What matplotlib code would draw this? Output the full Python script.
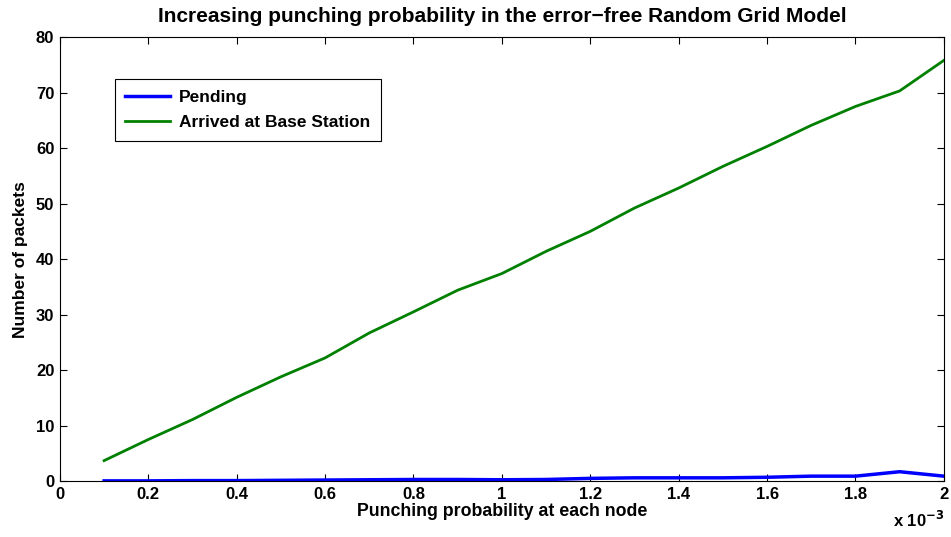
import matplotlib
matplotlib.use("Agg")
import matplotlib.pyplot as plt
from matplotlib.ticker import FuncFormatter, MultipleLocator

# punching probability at each node
prob = [0.0001, 0.0002, 0.0003, 0.0004, 0.0005, 0.0006, 0.0007, 0.0008, 0.0009, 0.0010,
        0.0011, 0.0012, 0.0013, 0.0014, 0.0015, 0.0016, 0.0017, 0.0018, 0.0019, 0.0020]

pending = [0.05, 0.05, 0.1, 0.1, 0.15, 0.2, 0.25, 0.3, 0.3, 0.25,
           0.3, 0.5, 0.6, 0.6, 0.6, 0.7, 0.9, 0.9, 1.7, 0.9]

arrived = [3.7, 7.5, 11.1, 15.1, 18.8, 22.2, 26.7, 30.5, 34.4, 37.4,
           41.4, 45.0, 49.2, 52.8, 56.7, 60.3, 64.1, 67.5, 70.3, 75.8]

plt.rcParams['font.family'] = ['Liberation Sans', 'DejaVu Sans']
plt.rcParams['font.weight'] = 'bold'
plt.rcParams['font.size'] = 12

fig = plt.figure(figsize=(9.51, 5.37), dpi=100)
ax = fig.add_axes([0.063, 0.104, 0.9295, 0.827])

ax.plot(prob, pending, color='#0000ff', lw=2.5, label='Pending')
ax.plot(prob, arrived, color='#008000', lw=2, label='Arrived at Base Station')

ax.set_xlim(0, 0.002)
ax.set_ylim(0, 80)
ax.xaxis.set_major_locator(MultipleLocator(0.0002))
ax.yaxis.set_major_locator(MultipleLocator(10))
ax.xaxis.set_major_formatter(FuncFormatter(lambda v, p: f"{v * 1e3:g}"))
ax.tick_params(direction='in', top=True, right=True, length=5, width=0.8,
               labelsize=12, pad=4)
for lbl in ax.get_xticklabels() + ax.get_yticklabels():
    lbl.set_fontweight('bold')

ax.set_title('Increasing punching probability in the error\u2212free Random Grid Model',
             fontsize=15, fontweight='bold', pad=11)
ax.set_xlabel('Punching probability at each node', fontsize=12.8, fontweight='bold', labelpad=1)
ax.set_ylabel('Number of packets', fontsize=12.5, fontweight='bold', labelpad=6)

fig.text(0.993, 0.018, r'x 10$^{\mathbf{-3}}$', fontsize=12, fontweight='bold', ha='right')

leg = ax.legend(loc='upper left', bbox_to_anchor=(0.062, 0.905), fancybox=False,
                edgecolor='black', framealpha=1, borderaxespad=0, handlelength=2.6,
                handletextpad=0.5, labelspacing=0.6, borderpad=0.6,
                prop={'weight': 'bold', 'size': 12.5})
leg.get_frame().set_linewidth(0.8)

fig.savefig('out.png', dpi=100)
